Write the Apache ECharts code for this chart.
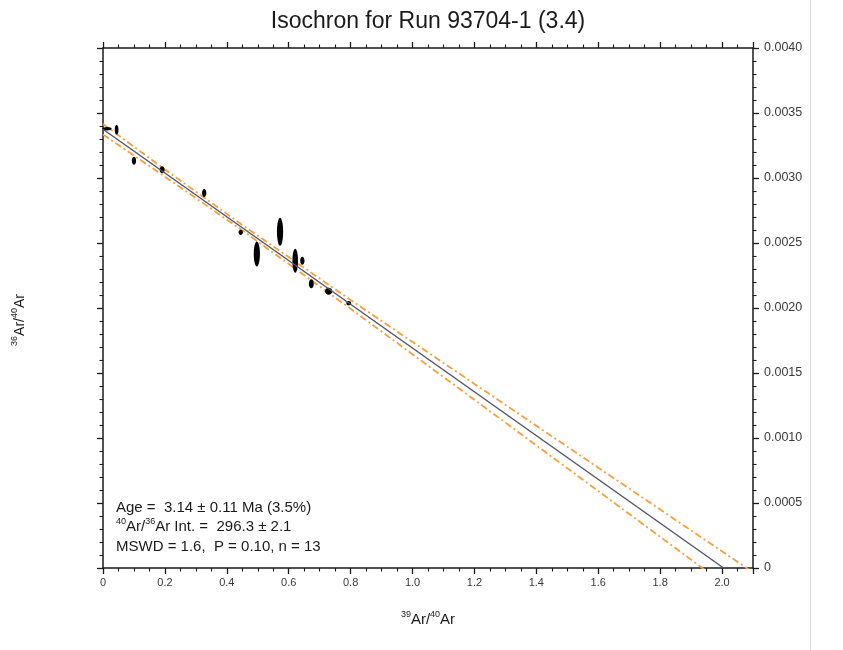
<!DOCTYPE html>
<html>
<head>
<meta charset="utf-8">
<script src="https://cdn.jsdelivr.net/npm/echarts@6/dist/echarts.min.js"></script>
<style>
  html, body { margin: 0; padding: 0; background: #ffffff; }
  #chart { width: 843px; height: 650px; }
</style>
</head>
<body>
<div id="chart"></div>
<script>
// Step-heating analyses: 39Ar/40Ar vs 36Ar/40Ar with 1-sigma half-axes
const stepX   = [0.013, 0.044, 0.100, 0.191, 0.327, 0.445, 0.497, 0.572, 0.621, 0.644, 0.673, 0.729, 0.794];
const stepY   = [0.003379, 0.003372, 0.003133, 0.003064, 0.002885, 0.002582, 0.002416, 0.002587, 0.002364, 0.002364, 0.002187, 0.002128, 0.002037];
const stepErrX = [0.015, 0.006, 0.007, 0.008, 0.007, 0.007, 0.010, 0.010, 0.009, 0.007, 0.008, 0.012, 0.008];
const stepErrY = [0.000013, 0.000038, 0.000031, 0.000027, 0.000031, 0.000020, 0.000096, 0.000108, 0.000092, 0.000031, 0.000035, 0.000027, 0.000016];

// Isochron fit: trapped 40Ar/36Ar intercept and 39Ar/40Ar intercept
const fitX = [0, 2.005];
const fitY = [0.003375, 0];

// Confidence envelope read along the fit
const bandX     = [0, 0.2, 0.45, 0.8, 1.2, 1.6, 2.0, 2.1];
const bandUpper = [0.003415, 0.003066, 0.002639, 0.002062, 0.001416, 0.000772, 0.000128, -0.000033];
const bandLower = [0.003335, 0.003010, 0.002597, 0.001994, 0.001294, 0.000592, -0.000112, -0.000287];

// Axis ranges and tick steps
const xRange = [0, 2.1], xStep = 0.2;
const yRange = [0, 0.004], yStep = 0.0005;

const titleText = 'Isochron for Run 93704-1 (3.4)';
const statLines = [
  'Age =  3.14 \u00b1 0.11 Ma (3.5%)',
  '{s|40}Ar/{s|36}Ar Int. =  296.3 \u00b1 2.1',
  'MSWD = 1.6,  P = 0.10, n = 13'
];

const FONT = '"Liberation Sans", Arial, Helvetica, sans-serif';
const INK = '#1a1a1a';

const pairs = (xs, ys) => xs.map((x, i) => [x, ys[i]]);

function makeAxis(kind, position, showLabels) {
  const isX = kind === 'x';
  return {
    type: 'value',
    position: position,
    min: isX ? xRange[0] : yRange[0],
    max: isX ? xRange[1] : yRange[1],
    interval: isX ? xStep : yStep,
    axisLine: { show: true, onZero: false, lineStyle: { color: INK, width: 1.5 } },
    axisTick: { show: true, inside: false, length: 6, lineStyle: { color: INK, width: 1.3 } },
    minorTick: { show: true, splitNumber: isX ? 4 : 5, length: 3.5, lineStyle: { color: INK, width: 1.1 } },
    splitLine: { show: false },
    minorSplitLine: { show: false },
    axisLabel: {
      show: showLabels,
      showMaxLabel: !isX,
      showMinLabel: true,
      margin: isX ? 9 : 11,
      fontFamily: FONT,
      fontSize: isX ? 11 : 12.5,
      color: '#3a3a3a',
      formatter: v => v === 0 ? '0' : (isX ? v.toFixed(1) : v.toFixed(4))
    }
  };
}

const chart = echarts.init(document.getElementById('chart'), null, { renderer: 'canvas' });

chart.setOption({
  backgroundColor: '#ffffff',
  animation: false,
  grid: { left: 103, right: 90, top: 48, bottom: 82, containLabel: false },
  xAxis: [makeAxis('x', 'bottom', true), makeAxis('x', 'top', false)],
  yAxis: [makeAxis('y', 'right', true), makeAxis('y', 'left', false)],
  series: [
    {
      type: 'line',
      name: 'upper',
      data: pairs(bandX, bandUpper),
      symbol: 'none',
      clip: true,
      lineStyle: { color: '#f4a03c', width: 1.8, type: [7, 3, 2, 3] },
      z: 3
    },
    {
      type: 'line',
      name: 'lower',
      data: pairs(bandX, bandLower),
      symbol: 'none',
      clip: true,
      lineStyle: { color: '#f4a03c', width: 1.8, type: [7, 3, 2, 3] },
      z: 3
    },
    {
      type: 'custom',
      name: 'steps',
      data: stepX.map((x, i) => [x, stepY[i], stepErrX[i], stepErrY[i]]),
      encode: { x: 0, y: 1 },
      renderItem: function (params, api) {
        const c = api.coord([api.value(0), api.value(1)]);
        const s = api.size([api.value(2), api.value(3)]);
        return {
          type: 'ellipse',
          shape: { cx: c[0], cy: c[1], rx: Math.max(s[0], 0.8), ry: Math.max(s[1], 0.8) },
          style: { fill: '#000000' }
        };
      },
      z: 4
    },
    {
      type: 'line',
      name: 'fit',
      data: pairs(fitX, fitY),
      symbol: 'none',
      clip: true,
      lineStyle: { color: '#55576a', width: 1.5 },
      z: 5
    }
  ],
  graphic: [
    {
      type: 'line',
      shape: { x1: 810.5, y1: 0, x2: 810.5, y2: 650 },
      style: { stroke: '#dcdcdc', lineWidth: 1 },
      silent: true
    },
    {
      type: 'text',
      x: 428, y: 22,
      style: {
        text: titleText,
        font: '23px ' + FONT,
        fill: INK,
        align: 'center',
        verticalAlign: 'middle'
      }
    },
    {
      type: 'text',
      x: 428, y: 620,
      style: {
        text: '{s|39}Ar/{s|40}Ar',
        align: 'center',
        verticalAlign: 'middle',
        rich: {
          s: { fontFamily: FONT, fontSize: 9, fill: INK, verticalAlign: 'top', lineHeight: 20 }
        },
        fontFamily: FONT,
        fontSize: 15,
        fill: INK,
        lineHeight: 20
      }
    },
    {
      type: 'text',
      x: 20, y: 320,
      rotation: Math.PI / 2,
      style: {
        text: '{s|36}Ar/{s|40}Ar',
        align: 'center',
        verticalAlign: 'middle',
        rich: {
          s: { fontFamily: FONT, fontSize: 9, fill: INK, verticalAlign: 'top', lineHeight: 20 }
        },
        fontFamily: FONT,
        fontSize: 14,
        fill: INK,
        lineHeight: 20
      }
    },
    {
      type: 'text',
      x: 116, y: 498,
      style: {
        text: statLines.join('\n'),
        align: 'left',
        verticalAlign: 'top',
        rich: {
          s: { fontFamily: FONT, fontSize: 9, fill: INK, verticalAlign: 'top', lineHeight: 19.5 }
        },
        fontFamily: FONT,
        fontSize: 15,
        fill: INK,
        lineHeight: 19.5
      }
    }
  ]
});
</script>
</body>
</html>
